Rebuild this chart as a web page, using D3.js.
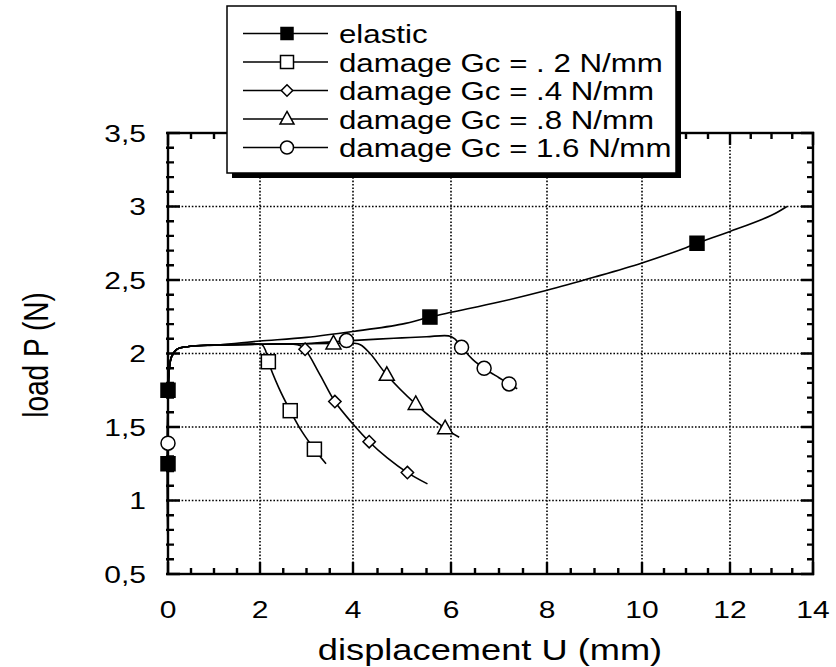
<!DOCTYPE html>
<html>
<head>
<meta charset="utf-8">
<script src="https://cdn.jsdelivr.net/npm/d3@7/dist/d3.min.js"></script>
<style>
  html, body { margin: 0; padding: 0; background: #fff; overflow: hidden; }
  #wrap { position: relative; width: 836px; height: 667px; }
  #wrap svg { position: absolute; left: 0; top: 0; display: block; }
  text { font-family: "Liberation Sans", Arial, Helvetica, sans-serif; fill: #000; }
</style>
</head>
<body>
<div id="wrap">
  <svg id="chart" width="836" height="667"></svg>
  <svg id="axes" width="836" height="667"></svg>
  <svg id="legend" width="836" height="667"></svg>
</div>
<script>
// ---------------- DATA ----------------
const xTickValues = [0, 2, 4, 6, 8, 10, 12, 14];
const xTickLabels = ["0", "2", "4", "6", "8", "10", "12", "14"];
const yTickValues = [0.5, 1, 1.5, 2, 2.5, 3, 3.5];
const yTickLabels = ["0,5", "1", "1,5", "2", "2,5", "3", "3,5"];
const xTitle = "displacement U (mm)";
const yTitle = "load P (N)";

const seriesNames = ["elastic", "damage Gc = . 2 N/mm", "damage Gc = .4 N/mm", "damage Gc = .8 N/mm", "damage Gc = 1.6 N/mm"];
const seriesSymbols = ["filledSquare", "square", "diamond", "triangle", "circle"];

// shared initial (elastic) branch
const startU = [0, 0, 0.03, 0.08, 0.2, 0.45, 1.0];
const startP = [0.5, 1.7, 1.9, 1.98, 2.03, 2.048, 2.057];

const elasticU = [1.5, 2, 3, 4, 5, 5.57, 6, 7, 8, 9, 10, 11, 11.25, 12, 13, 13.37];
const elasticP = [2.07, 2.085, 2.11, 2.15, 2.2, 2.248, 2.28, 2.35, 2.43, 2.52, 2.616, 2.72, 2.75, 2.83, 2.94, 3.0];

const gc02U = [2, 2.05, 2.12, 2.18, 2.4, 2.65, 2.9, 3.17, 3.42];
const gc02P = [2.063, 2.058, 2.02, 1.944, 1.77, 1.611, 1.47, 1.349, 1.25];

const gc04U = [2, 2.7, 2.86, 2.97, 3.3, 3.61, 4.0, 4.33, 4.7, 5.11, 5.52];
const gc04P = [2.063, 2.064, 2.055, 2.029, 1.85, 1.673, 1.52, 1.40, 1.29, 1.19, 1.113];

const gc08U = [2, 3, 3.58, 4.0, 4.15, 4.35, 4.69, 5.28, 5.88, 6.17];
const gc08P = [2.063, 2.066, 2.068, 2.07, 2.06, 2.0, 1.854, 1.656, 1.491, 1.43];

const gc16U = [2, 3, 3.86, 4.5, 5, 5.5, 5.95, 6.08, 6.22, 6.45, 6.69, 7.0, 7.21, 7.38];
const gc16P = [2.063, 2.068, 2.086, 2.098, 2.106, 2.114, 2.12, 2.1, 2.042, 1.96, 1.899, 1.835, 1.793, 1.76];

// marker positions
const elasticMarkU = [0, 0, 5.57, 11.25];
const elasticMarkP = [1.25, 1.75, 2.248, 2.75];
const gc02MarkU = [2.18, 2.65, 3.17];
const gc02MarkP = [1.944, 1.611, 1.349];
const gc04MarkU = [2.97, 3.61, 4.33, 5.11];
const gc04MarkP = [2.029, 1.673, 1.40, 1.19];
const gc08MarkU = [3.58, 4.69, 5.28, 5.88];
const gc08MarkP = [2.068, 1.854, 1.656, 1.491];
const gc16MarkU = [0, 3.86, 6.22, 6.69, 7.21];
const gc16MarkP = [1.39, 2.088, 2.042, 1.899, 1.793];

// ---------------- BUILD ----------------
const zip = (u, p) => u.map((d, i) => [d, p[i]]);
const start = zip(startU, startP);
const series = [
  { name: seriesNames[0], sym: seriesSymbols[0], line: start.concat(zip(elasticU, elasticP)), marks: zip(elasticMarkU, elasticMarkP) },
  { name: seriesNames[1], sym: seriesSymbols[1], line: start.concat(zip(gc02U, gc02P)), marks: zip(gc02MarkU, gc02MarkP) },
  { name: seriesNames[2], sym: seriesSymbols[2], line: start.concat(zip(gc04U, gc04P)), marks: zip(gc04MarkU, gc04MarkP) },
  { name: seriesNames[3], sym: seriesSymbols[3], line: start.concat(zip(gc08U, gc08P)), marks: zip(gc08MarkU, gc08MarkP) },
  { name: seriesNames[4], sym: seriesSymbols[4], line: start.concat(zip(gc16U, gc16P)), marks: zip(gc16MarkU, gc16MarkP) }
];

const svg = d3.select("#chart");
const axesSvg = d3.select("#axes");
const legSvg = d3.select("#legend");
const SX = 1.25; // horizontal stretch of the scanned lettering

// piecewise scale follows the slightly uneven tick spacing of the original
const x = d3.scaleLinear().domain(xTickValues).range([168, 260, 353, 451, 547, 642, 730, 813]);
const y = d3.scaleLinear().domain([0.5, 3.5]).range([574, 133]);
const L = x(0), R = x(14), T = y(3.5), B = y(0.5);

function stretchedText(g, str, px, py, size, anchor) {
  return g.append("text")
    .attr("transform", `translate(${px},${py}) scale(${SX},1)`)
    .attr("text-anchor", anchor)
    .attr("font-size", size)
    .text(str);
}

function drawSymbol(g, sym, cx, cy, s) {
  const h = s / 2;
  if (sym === "filledSquare" || sym === "square") {
    g.append("rect").attr("x", cx - h).attr("y", cy - h).attr("width", s).attr("height", s)
      .attr("fill", sym === "filledSquare" ? "#000" : "#fff").attr("stroke", "#000").attr("stroke-width", 1.5);
  } else if (sym === "diamond") {
    const d = h * 0.95;
    g.append("path").attr("d", `M${cx},${cy - d}L${cx + d},${cy}L${cx},${cy + d}L${cx - d},${cy}Z`)
      .attr("fill", "#fff").attr("stroke", "#000").attr("stroke-width", 1.5);
  } else if (sym === "triangle") {
    const th = s * 0.9;
    g.append("path").attr("d", `M${cx},${cy - th * 0.6}L${cx + h},${cy + th * 0.4}L${cx - h},${cy + th * 0.4}Z`)
      .attr("fill", "#fff").attr("stroke", "#000").attr("stroke-width", 1.5);
  } else if (sym === "circle") {
    g.append("circle").attr("cx", cx).attr("cy", cy).attr("r", h)
      .attr("fill", "#fff").attr("stroke", "#000").attr("stroke-width", 1.5);
  }
}
const plotSize = { filledSquare: 14, square: 14, diamond: 13, triangle: 15, circle: 14 };

// ---- layer 1: grid, curves, markers, labels ----
const gridPath = d3.path();
xTickValues.filter(v => v > 0 && v < 14).forEach(v => { gridPath.moveTo(x(v), T); gridPath.lineTo(x(v), B); });
yTickValues.filter(v => v > 0.5 && v < 3.5).forEach(v => { gridPath.moveTo(L, y(v)); gridPath.lineTo(R, y(v)); });
svg.append("path").attr("d", gridPath.toString()).attr("fill", "none")
  .attr("stroke", "#000").attr("stroke-width", 1.6).attr("stroke-dasharray", "1.6,1.8");

const lineGen = d3.line().x(d => x(d[0])).y(d => y(d[1])).curve(d3.curveCatmullRom.alpha(0.5));
series.slice().reverse().forEach(s => {
  svg.append("path").attr("d", lineGen(s.line)).attr("fill", "none")
    .attr("stroke", "#000").attr("stroke-width", 1.6);
});

const labels = svg.append("g");
yTickValues.forEach((v, i) => stretchedText(labels, yTickLabels[i], 146, y(v) + 8.5, 24, "end"));
xTickValues.forEach((v, i) => stretchedText(labels, xTickLabels[i], x(v), 618, 24, "middle"));
stretchedText(svg, xTitle, 490, 660, 29, "middle");
svg.append("text")
  .attr("transform", `translate(48,355) rotate(-90) scale(1,${SX})`)
  .attr("text-anchor", "middle").attr("font-size", 28).text(yTitle);

// ---- layer 2: frame, ticks (inward on all four sides), markers ----
const yAll = d3.range(5, 36).map(v => v / 10);
const isYMajor = v => yTickValues.some(t => Math.abs(t - v) < 1e-9);
const xAll = d3.range(0, 29).map(v => v / 2);
const isXMajor = v => xTickValues.includes(v);
axesSvg.append("rect").attr("x", L).attr("y", T).attr("width", R - L).attr("height", B - T)
  .attr("fill", "none").attr("stroke", "#000").attr("stroke-width", 2.4);
const tp = d3.path();
yAll.forEach(d => {
  const len = isYMajor(d) ? 12 : 6;
  tp.moveTo(L - 2, y(d)); tp.lineTo(L + len, y(d));
  tp.moveTo(R + 1, y(d)); tp.lineTo(R - len, y(d));
});
xAll.forEach(d => {
  const len = isXMajor(d) ? 12 : 6;
  tp.moveTo(x(d), B + 1); tp.lineTo(x(d), B - len);
  tp.moveTo(x(d), T - 1); tp.lineTo(x(d), T + len);
});
axesSvg.append("path").attr("d", tp.toString()).attr("fill", "none")
  .attr("stroke", "#000").attr("stroke-width", 2.4);

const markG = axesSvg.append("g");
series.slice().reverse().forEach(s => {
  s.marks.forEach(m => drawSymbol(markG, s.sym, x(m[0]), y(m[1]), plotSize[s.sym]));
});

// ---- layer 3: legend ----
const LX0 = 227, LY0 = 6, LX1 = 676, LY1 = 173, SH = 5;
legSvg.append("rect").attr("x", LX0 + SH).attr("y", LY0 + SH).attr("width", LX1 - LX0).attr("height", LY1 - LY0)
  .attr("fill", "#000");
legSvg.append("rect").attr("x", LX0).attr("y", LY0).attr("width", LX1 - LX0).attr("height", LY1 - LY0)
  .attr("fill", "#fff").attr("stroke", "#000").attr("stroke-width", 1.5);
const legSize = { filledSquare: 12, square: 13, diamond: 12, triangle: 14, circle: 13 };
series.forEach((s, i) => {
  const cy = 33.5 + 28.5 * i;
  legSvg.append("line").attr("x1", 243).attr("x2", 328).attr("y1", cy).attr("y2", cy)
    .attr("stroke", "#000").attr("stroke-width", 1.6);
  drawSymbol(legSvg, s.sym, 287, cy, legSize[s.sym]);
  stretchedText(legSvg, s.name, 339, cy + 9.5, 25, "start");
});
</script>
</body>
</html>
